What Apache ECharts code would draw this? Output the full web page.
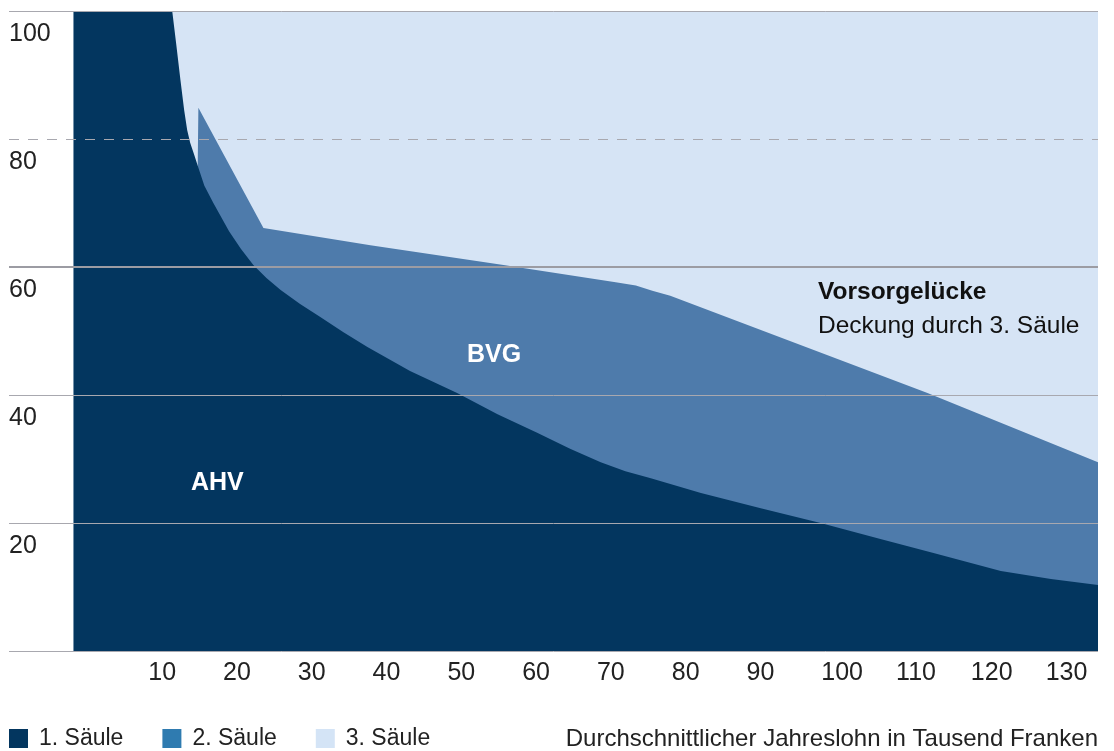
<!DOCTYPE html>
<html>
<head>
<meta charset="utf-8">
<script src="https://cdn.jsdelivr.net/npm/echarts@6/dist/echarts.min.js"></script>
<style>
html, body { margin: 0; padding: 0; background: #fff; }
#grafico { width: 1114px; height: 751px; }
</style>
</head>
<body>
<div id="grafico"></div>
<script>
// x: Jahreslohn in Tausend Franken, y: Ersatzquote in %
var ahv = [[0, 100], [13.2, 100], [13.75, 94.7], [14.3, 89.2], [14.8, 84.5], [15.2, 81.4], [15.6, 79.4],
    [16.15, 77.5], [16.7, 75.5], [17.5, 72.7], [18.7, 70.0], [20.8, 65.6], [22.4, 62.8], [24.05, 60.3],
    [25.8, 58.3], [27.7, 56.4], [30.3, 54.2], [33.0, 52.2], [36.1, 49.8], [39.3, 47.5], [45.0, 43.75],
    [51.3, 40.3], [56.7, 37.0], [62.0, 34.1], [66.4, 31.6], [70.5, 29.5], [73.8, 28.1], [77.2, 27.0],
    [83.9, 24.7], [91.9, 22.3], [99.9, 20.0], [107.9, 17.5], [115.0, 15.3], [120.0, 13.75],
    [124.0, 12.5], [130.7, 11.25], [137, 10.3]];
// obere Kante 1. + 2. Saeule
var bvgTop = [[16.6, 75.0], [16.7, 84.9], [25.4, 66.1], [39.7, 63.4], [57.5, 60.3], [72.5, 57.6],
    [75.2, 57.1], [77.4, 56.3], [79.8, 55.5], [114.2, 40.3], [137, 29.5]];
var saeule3Top = [[0, 100], [137, 100]];
var gridLinesY = [100, 80, 60, 40, 20, 0];
var names = ['1. Säule', '2. Säule', '3. Säule'];
var legendColors = ['#03365f', '#2f7bb0', '#d4e4f6'];

var font = '"Liberation Sans", Arial, sans-serif';
var dom = document.getElementById("grafico");
var myChart = echarts.init(dom);

var lineData = gridLinesY.map(function (v) {
    var item = { yAxis: v };
    if (v === 80) item.lineStyle = { type: [10, 9] };
    if (v === 60) item.lineStyle = { width: 2, color: '#9c9ca3' };
    return item;
});

option = {
    animation: false,
    textStyle: { fontFamily: font },
    grid: [
        { left: 73.5, right: 16, top: 11, bottom: 100 },
        { left: 9, right: 16, top: 11, bottom: 100 }
    ],
    xAxis: [
        {
            type: 'value', gridIndex: 0, min: 0, max: 137, interval: 10,
            axisLine: { show: false }, axisTick: { show: false }, splitLine: { show: false },
            axisLabel: {
                align: 'left', margin: 10, fontSize: 25, color: '#222', fontFamily: font,
                formatter: function (v) { return (v > 0 && v % 10 === 0) ? v : ''; }
            }
        },
        { type: 'value', gridIndex: 1, min: 0, max: 1, show: false }
    ],
    yAxis: [
        { type: 'value', gridIndex: 0, min: 0, max: 100, show: false },
        {
            type: 'value', gridIndex: 1, min: 0, max: 100, interval: 20,
            axisLine: { show: false }, axisTick: { show: false }, splitLine: { show: false },
            axisLabel: {
                inside: true, align: 'left', verticalAlign: 'top', margin: 0,
                padding: [11, 0, 0, 0], fontSize: 25, color: '#222', fontFamily: font,
                formatter: function (v) { return v > 0 ? v : ''; }
            }
        }
    ],
    legend: {
        left: 4, top: 722, icon: 'rect', itemWidth: 19, itemHeight: 19, itemGap: 39,
        selectedMode: false,
        textStyle: { fontSize: 23, color: '#222', fontFamily: font, padding: [0, 0, 0, 6] },
        data: names.map(function (n, i) { return { name: n, itemStyle: { color: legendColors[i] } }; })
    },
    graphic: [
        { type: 'text', right: 16, top: 727, style: { text: 'Durchschnittlicher Jahreslohn in Tausend Franken', font: '24px ' + font, fill: '#222' } },
        { type: 'text', left: 191, top: 471, z: 20, style: { text: 'AHV', font: 'bold 25px ' + font, fill: '#fff' } },
        { type: 'text', left: 467, top: 343, z: 20, style: { text: 'BVG', font: 'bold 25px ' + font, fill: '#fff' } },
        { type: 'text', left: 818, top: 280, z: 20, style: { text: 'Vorsorgelücke', font: 'bold 24.5px ' + font, fill: '#111' } },
        { type: 'text', left: 818, top: 314, z: 20, style: { text: 'Deckung durch 3. Säule', font: '24.5px ' + font, fill: '#111' } }
    ],
    series: [
        {
            name: names[2], type: 'line', xAxisIndex: 0, yAxisIndex: 0, data: saeule3Top,
            symbol: 'none', lineStyle: { width: 0 }, areaStyle: { color: '#d6e4f5', opacity: 1 }, z: 2
        },
        {
            name: names[1], type: 'line', xAxisIndex: 0, yAxisIndex: 0, data: bvgTop,
            symbol: 'none', lineStyle: { width: 0 }, areaStyle: { color: '#4e7bab', opacity: 1 }, z: 3
        },
        {
            name: names[0], type: 'line', xAxisIndex: 0, yAxisIndex: 0, data: ahv,
            symbol: 'none', lineStyle: { width: 0 }, areaStyle: { color: '#03365f', opacity: 1 }, z: 4
        },
        {
            type: 'line', xAxisIndex: 1, yAxisIndex: 1, data: [], z: 10, silent: true,
            markLine: {
                silent: true, z: 10, symbol: ['none', 'none'], label: { show: false },
                lineStyle: { color: '#a8a8af', width: 1, type: 'solid' },
                data: lineData
            }
        }
    ]
};
if (option && typeof option === "object") {
    myChart.setOption(option, true);
}
</script>
</body>
</html>
